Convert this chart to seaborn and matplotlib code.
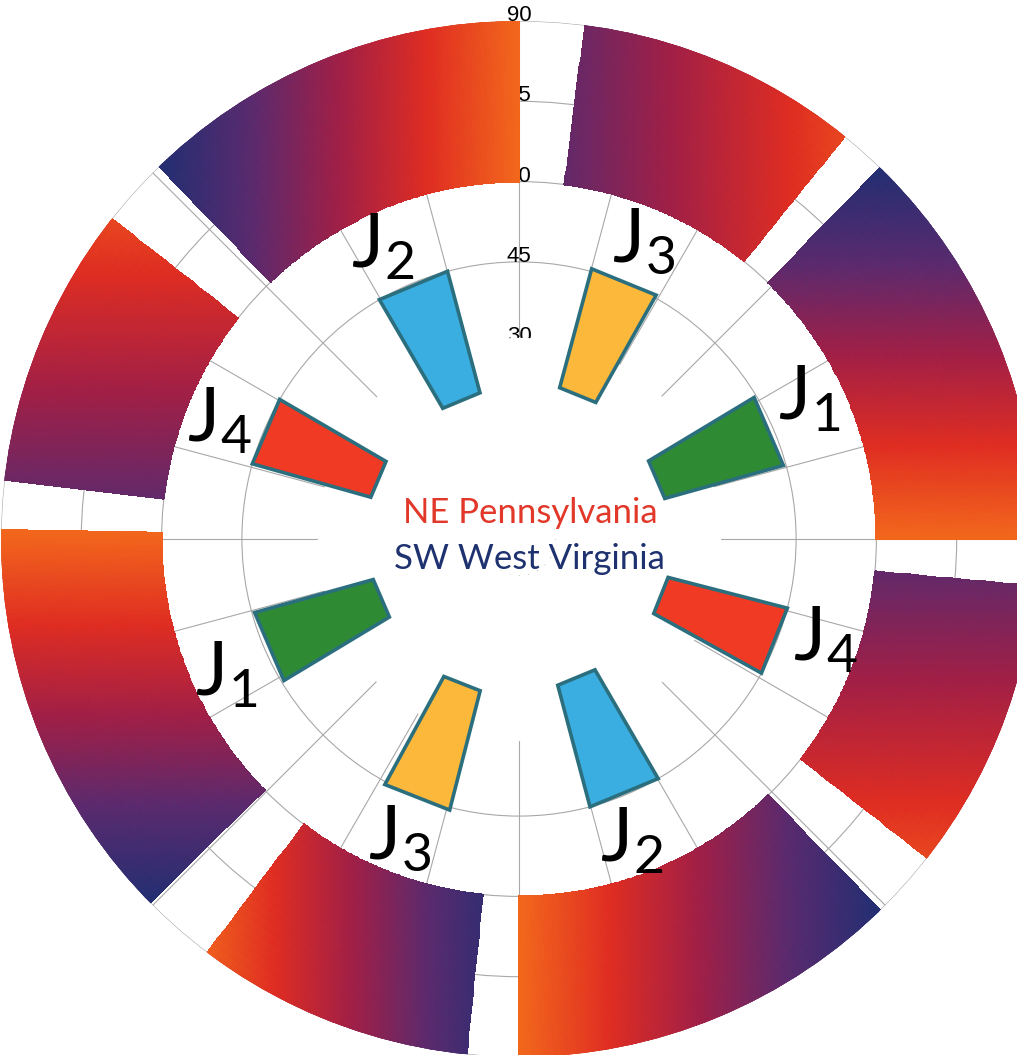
import numpy as np
import matplotlib
matplotlib.use("Agg")
import matplotlib.pyplot as plt
import seaborn as sns

# joint sets: strike of each bar (deg, both directions) and dip range
joint_sets = ["1", "2", "3", "4"]
strike_a = [66.7, 337.4, 22.2, 293.0]
strike_b = [246.7, 157.5, 201.5, 111.7]
strike_width = [15.5, 15.3, 14.3, 14.5]
dip_low = [21.5, 21.5, 22.5, 22.0]
dip_high = [44.5, 45.0, 45.5, 45.0]
set_colors = ["#2e8b34", "#3aaee0", "#fbb83a", "#f03a24"]

# outer ring sectors (strike ranges, deg) with gradient fill
ring_start = [316.0, 7.3, 44.2, 95.2, 135.8, 185.8, 225.4, 276.5]
ring_end = [360.0, 39.0, 90.0, 128.0, 180.0, 217.0, 271.0, 308.2]
ring_low, ring_high = 60, 90
ring_col_start = [0.0, 0.28, 0.0, 0.28, 0.0, 0.08, 0.0, 0.28]
ring_col_end = [1.0, 0.85, 1.0, 0.85, 1.0, 0.95, 1.0, 0.85]
ring_axis = ["x", "x", "y", "y", "x", "x", "y", "y"]

radial_ticks = [30, 45, 60, 75, 90]
region_top = "NE Pennsylvania"
region_bottom = "SW West Virginia"

R_ORIGIN = -6.76
GRID = "#a8a8a8"
# small angular nudges for the J labels (a-side, b-side)
label_nudge_a = [-2.5, -2.5, 0.5, -1.5]
label_nudge_b = [-1.5, 2.0, 0.3, -3.5]

sns.set_theme(style="white")
plt.rcParams["font.family"] = ["Lato", "DejaVu Sans"]
plt.rcParams["mathtext.fontset"] = "custom"
plt.rcParams["mathtext.rm"] = "Lato"

fig = plt.figure(figsize=(10.17, 10.55), dpi=100)
ax = fig.add_axes([1 / 1017, -2 / 1055, 1036 / 1017, 1036 / 1055], projection="polar")
ax.set_theta_zero_location("N")
ax.set_theta_direction(-1)
ax.set_rorigin(R_ORIGIN)
ax.set_ylim(0, 90)
ax.set_yticks(radial_ticks)
ax.set_yticklabels([])
ax.set_xticks(np.radians(np.arange(0, 360, 15)))
ax.set_xticklabels([])
ax.grid(True, color=GRID, linewidth=0.8)
for sp in ax.spines.values():
    sp.set_edgecolor("none")
    sp.set_linewidth(0)
ax.set_facecolor("white")

# radial labels along north axis
for v in radial_ticks:
    ax.text(0, v, str(v), ha="center", va="baseline", fontsize=16,
            family="Liberation Sans", color="black", zorder=1.8, clip_on=False)

# white disc hiding the centre
th_full = np.linspace(0, 2 * np.pi, 361)
ax.fill_between(th_full, 0, 30.9, color="white", linewidth=0, zorder=2)

# outer gradient ring
cmap = sns.blend_palette(["#252e72", "#5a2a6e", "#a11f46", "#df2d22", "#f2661c"], as_cmap=True)
for s, e, c0, c1, axis in zip(ring_start, ring_end, ring_col_start, ring_col_end, ring_axis):
    th = np.radians(np.linspace(s, e, 120))
    rr = np.linspace(ring_low, ring_high, 20)
    T, R = np.meshgrid(th, rr)
    Tc = (T[:-1, :-1] + T[1:, 1:]) / 2
    Rc = (R[:-1, :-1] + R[1:, 1:]) / 2 - R_ORIGIN
    proj = np.sin if axis == "x" else np.cos
    p = Rc * proj(Tc)
    rm = (ring_low + ring_high) / 2 - R_ORIGIN
    p_s = rm * proj(np.radians(s))
    p_e = rm * proj(np.radians(e))
    t = (p - p.min()) / (p.max() - p.min())
    if p_e < p_s:
        t = 1 - t
    C = c0 + t * (c1 - c0)
    ax.pcolormesh(T, R, C, cmap=cmap, vmin=0, vmax=1, shading="flat",
                  edgecolors="face", linewidth=0.3, zorder=3, rasterized=True)

# joint set bars (straight-edged trapezoids)
for name, sa, sb, w, lo, hi, col, na, nb in zip(joint_sets, strike_a, strike_b, strike_width,
                                                 dip_low, dip_high, set_colors,
                                                 label_nudge_a, label_nudge_b):
    for s, nudge in ((sa, na), (sb, nb)):
        t0, t1 = np.radians(s - w / 2), np.radians(s + w / 2)
        ax.fill([t0, t1, t1, t0], [lo, lo, hi, hi], facecolor=col,
                edgecolor="#2b6f7f", linewidth=2.6, joinstyle="miter", zorder=4)
        ax.text(np.radians(s + nudge), 53.5, r"$\mathrm{J}_{%s}$" % name, ha="center",
                va="center", fontsize=55, color="black", zorder=5)

ax.text(0.5106, 0.5154, region_top, transform=ax.transAxes, ha="center", va="baseline",
        fontsize=25, color="#e2382a", zorder=6)
ax.text(0.5096, 0.4710, region_bottom, transform=ax.transAxes, ha="center", va="baseline",
        fontsize=25, color="#1f3270", zorder=6)

fig.savefig("out.png", dpi=100, facecolor="white")
